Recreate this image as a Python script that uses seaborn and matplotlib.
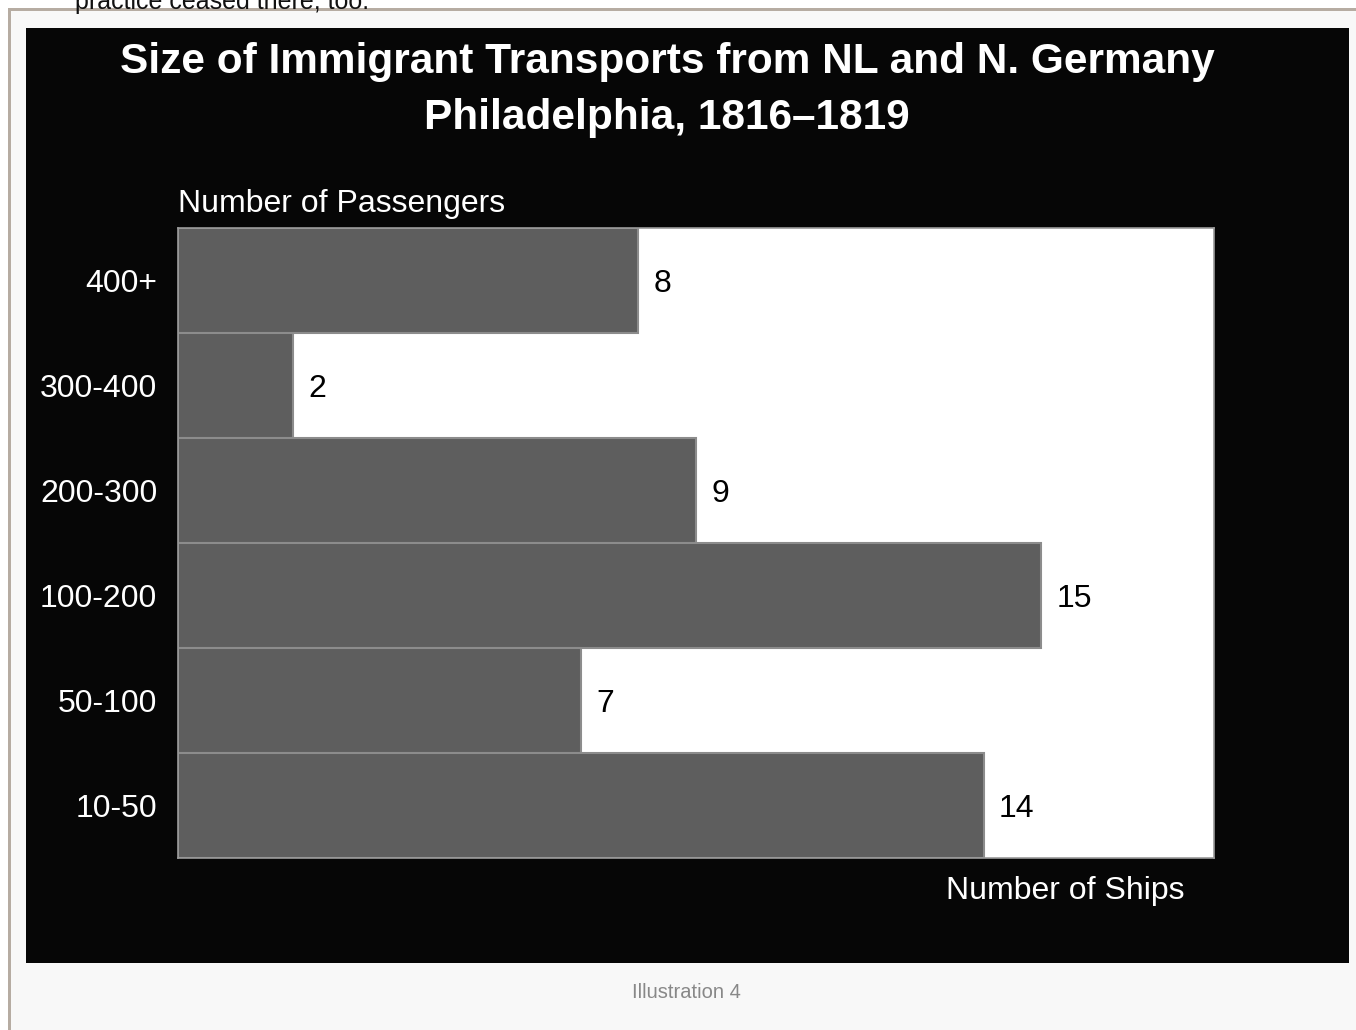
import matplotlib
matplotlib.use("Agg")
import matplotlib.pyplot as plt
from matplotlib.patches import Rectangle
import seaborn as sns
import pandas as pd

categories = ["400+", "300-400", "200-300", "100-200", "50-100", "10-50"]
ships = [8, 2, 9, 15, 7, 14]
title_lines = ["Size of Immigrant Transports from NL and N. Germany", "Philadelphia, 1816\u20131819"]
y_label = "Number of Passengers"
x_label = "Number of Ships"
caption = "Illustration 4"
page_text = "practice ceased there, too."

sns.set_theme(style="white")
plt.rcParams["font.family"] = ["Liberation Sans", "DejaVu Sans"]

W, H = 1356, 1030
fig = plt.figure(figsize=(W / 100, H / 100), dpi=100, facecolor="white")

def fx(px):
    return px / W

def fy(py):
    return 1 - py / H

# page frame
fig.patches.append(Rectangle((fx(8), 0), 1, fy(10), transform=fig.transFigure,
                             facecolor="#f8f8f8", edgecolor="none", zorder=0))
fig.patches.append(Rectangle((fx(8), fy(11)), 1, 3 / H, transform=fig.transFigure,
                             facecolor="#b6aca2", edgecolor="none", zorder=1))
fig.patches.append(Rectangle((fx(8), 0), 3 / W, fy(8), transform=fig.transFigure,
                             facecolor="#b6aca2", edgecolor="none", zorder=1))
# black image
fig.patches.append(Rectangle((fx(26), fy(963)), fx(1349) - fx(26), fy(28) - fy(963),
                             transform=fig.transFigure, facecolor="#060606",
                             edgecolor="none", zorder=2))

fig.text(fx(75), fy(9), page_text, fontsize=18, color="#111111", ha="left", va="baseline")

ax = fig.add_axes([fx(178), fy(858), fx(1214) - fx(178), fy(228) - fy(858)])
ax.set_zorder(5)
df = pd.DataFrame({"cat": categories, "n": ships})
sns.barplot(data=df, x="n", y="cat", order=categories, orient="h", width=1.0,
            color="#5e5e5e", saturation=1, edgecolor="#8c8c8c", linewidth=1.5, ax=ax)
ax.set_facecolor("white")
ax.set_xlim(0, 18)
ax.set_ylim(5.5, -0.5)
ax.set_xlabel("")
ax.set_ylabel("")
ax.set_xticks([])
ax.tick_params(axis="y", length=0, pad=15, labelsize=23, labelcolor="white")
for s in ax.spines.values():
    s.set_color("#9a9a9a")
    s.set_linewidth(1.2)

for i, v in enumerate(ships):
    ax.annotate(str(v), (v, i), xytext=(11, 0), textcoords="offset points",
                ha="left", va="center_baseline", fontsize=23, color="black")

fig.text(fx(667), fy(62), title_lines[0], fontsize=30.5, fontweight="bold",
         color="white", ha="center", va="center", zorder=10)
fig.text(fx(667), fy(118), title_lines[1], fontsize=30.5, fontweight="bold",
         color="white", ha="center", va="center", zorder=10)
fig.text(fx(178), fy(204), y_label, fontsize=23, color="white", ha="left",
         va="center", zorder=10)
fig.text(fx(1184), fy(891), x_label, fontsize=23, color="white", ha="right",
         va="center", zorder=10)
fig.text(fx(686), fy(993), caption, fontsize=14.5, color="#888888", ha="center",
         va="center", zorder=10)

fig.savefig("out.png", dpi=100, facecolor="white")
